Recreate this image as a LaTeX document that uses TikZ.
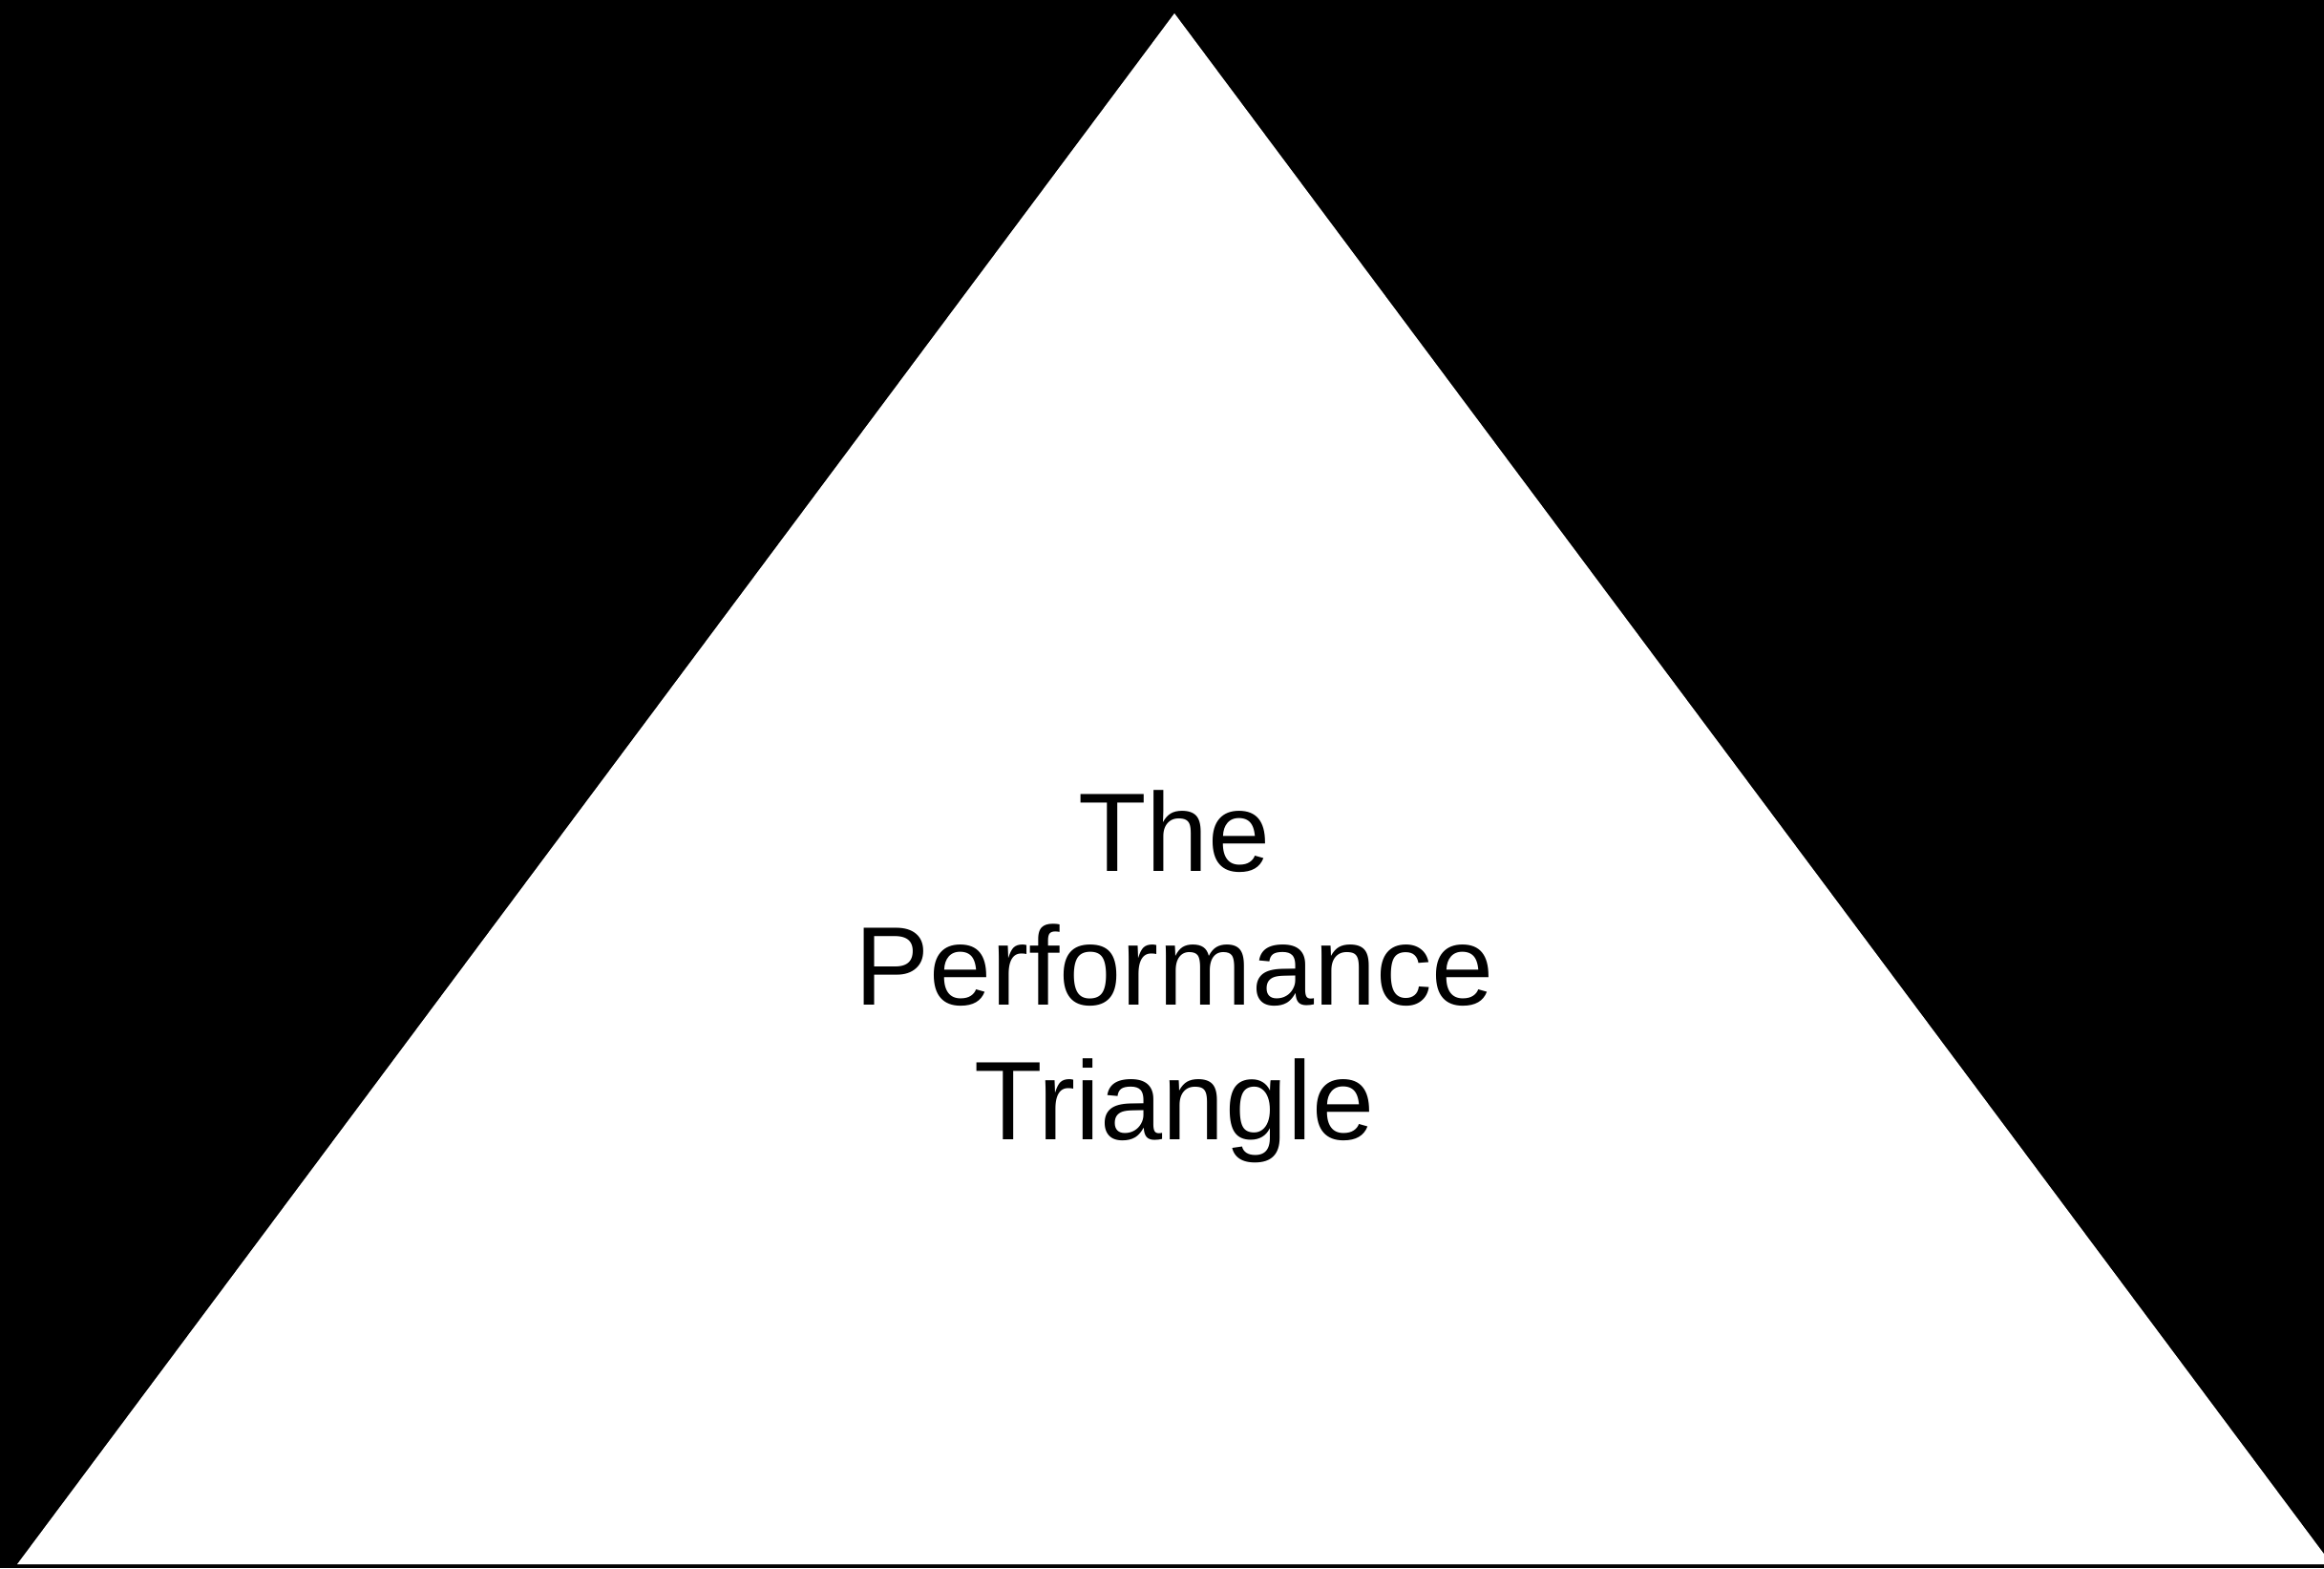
\documentclass[tikz,border=0pt]{standalone}
\usepackage{fontspec}
\setmainfont{Liberation Sans}
\usepackage{tikz}

\begin{document}
\begin{tikzpicture}[
    title/.style={
        align=center,
        inner sep=0pt,
        font=\fontsize{33.3pt}{40pt}\selectfont
    },
    backdrop/.style={
        fill=black
    },
    pyramid/.style={
        fill=white
    }
]

\useasboundingbox (0,0) rectangle (24.34,16.42);
\fill[backdrop] (0,0) rectangle (24.34,16.42);

% corners of the triangle
\coordinate (left) at (0.18,0.04);
\coordinate (apex) at (12.30,16.28);
\coordinate (right) at (24.42,0.04);

\begin{scope}
\clip (0,0) rectangle (24.34,16.42);
\fill[pyramid] (left) -- (apex) -- (right) -- cycle;
\end{scope}

\node[title] (label) at (12.30,6.195)
{The\\Performance\\Triangle};

\end{tikzpicture}
\end{document}
